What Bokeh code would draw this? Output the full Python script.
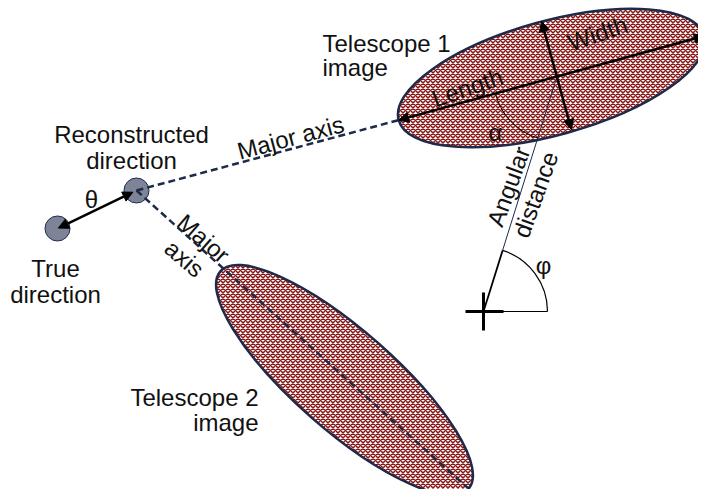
import math
from bokeh.plotting import figure
from bokeh.models import Range1d, Arrow, NormalHead, ColumnDataSource
from bokeh.core.properties import value
from bokeh.embed import file_html
from bokeh.resources import INLINE

# ---- diagram data (picture pixel coordinates) ----
ell_names = ["Telescope 1", "Telescope 2"]
ell_x = [551, 344]
ell_y = [77.5, 379.5]
ell_len = [317, 330]          # full major axis
ell_wid = [114, 100]          # full minor axis
ell_ang = [15.4, -41.2]       # degrees, counter-clockwise

true_dir = (57, 228)
reco_dir = (136, 190)
dir_radius = 12.5

cross = (483, 311)
phi_radius = 64
alpha_radius = 63
width_arrow_center = (556, 75)
width_arrow_half = 56

label_text = ["Telescope 1", "image", "Telescope 2", "image", "Reconstructed", "direction",
              "True", "direction", "Major axis", "Major", "axis", "Length", "Width",
              "Angular", "distance"]
label_x = [322, 322, 258, 258, 131, 131, 55, 55, 290, 203, 184, 467, 597, 508, 535]
label_y = [43, 67, 397, 422, 134, 160, 268, 294, 137, 238, 258, 87, 33, 186, 194]
label_ang = [0, 0, 0, 0, 0, 0, 0, 0, 15, -41, -41, 19, 19, 70, 70]
label_align = ["left", "left", "right", "right", "center", "center", "center", "center",
               "center", "center", "center", "center", "center", "center", "center"]
label_base = ["alphabetic"] * 4 + ["middle"] * 11

greek_text = ["θ", "α", "φ"]
greek_x = [91, 495, 543]
greek_y = [199, 132, 265]

NAVY = "#1d2a4a"
RED = "#8a1515"
FONT = value("Liberation Sans")

p = figure(width=698, height=489, x_range=Range1d(0, 698), y_range=Range1d(489, 0),
           output_backend="svg", toolbar_location=None, min_border=0)
p.axis.visible = False
p.grid.visible = False
p.outline_line_color = None
p.background_fill_color = "white"

# telescope images
p.ellipse(x=ell_x, y=ell_y, width=ell_len, height=ell_wid, angle=ell_ang, angle_units="deg",
          fill_color="white", hatch_pattern="diagonal_cross", hatch_color=RED,
          hatch_scale=5, hatch_weight=1.5, line_color=NAVY, line_width=2.5)

def tip(i, sign):
    a = math.radians(ell_ang[i])
    h = ell_len[i] / 2
    return (ell_x[i] + sign * h * math.cos(a), ell_y[i] - sign * h * math.sin(a))

# direction markers
p.circle(x=[true_dir[0], reco_dir[0]], y=[true_dir[1], reco_dir[1]], radius=dir_radius,
         fill_color="#7d8498", line_color=NAVY, line_width=1)

# dashed major axes
t1 = tip(0, -1)
t2 = tip(1, 1)
p.line([reco_dir[0], t1[0]], [reco_dir[1], t1[1]], line_dash="7 4", line_width=2.5, line_color=NAVY)
p.line([reco_dir[0], t2[0]], [reco_dir[1], t2[1]], line_dash="7 4", line_width=2.5, line_color=NAVY)

head = lambda: NormalHead(size=10, fill_color="black", line_color="black")
# length arrow
t1b = tip(0, 1)
p.add_layout(Arrow(x_start=t1[0], y_start=t1[1], x_end=t1b[0], y_end=t1b[1], line_width=2.5,
                   start=head(), end=head()))
# width arrow
a0 = math.radians(ell_ang[0])
wx0 = width_arrow_center[0] - width_arrow_half * math.sin(a0)
wy0 = width_arrow_center[1] - width_arrow_half * math.cos(a0)
wx1 = width_arrow_center[0] + width_arrow_half * math.sin(a0)
wy1 = width_arrow_center[1] + width_arrow_half * math.cos(a0)
p.add_layout(Arrow(x_start=wx0, y_start=wy0, x_end=wx1, y_end=wy1, line_width=2.5,
                   start=head(), end=head()))

# theta arrow
dx = reco_dir[0] - true_dir[0]
dy = reco_dir[1] - true_dir[1]
d = math.hypot(dx, dy)
p.add_layout(Arrow(x_start=true_dir[0] + dx / d, y_start=true_dir[1] + dy / d,
                   x_end=reco_dir[0] - 4 * dx / d, y_end=reco_dir[1] - 4 * dy / d, line_width=2.5,
                   start=head(), end=head()))

# angular distance line
cx1 = ell_x[0] + 5
ux = cx1 - cross[0]
uy = ell_y[0] - cross[1]
ud = math.hypot(ux, uy)
phi_end = math.atan2(-uy, ux)
arc_pt = (cross[0] + phi_radius * ux / ud, cross[1] + phi_radius * uy / ud)
p.line([arc_pt[0], cx1], [arc_pt[1], ell_y[0]], line_width=1, line_color=NAVY)
p.line([cross[0], arc_pt[0]], [cross[1], arc_pt[1]], line_width=1.8, line_color="black")
p.line([cross[0], cross[0] + phi_radius], [cross[1], cross[1]], line_width=1.2, line_color="black")
p.arc(x=[cross[0]], y=[cross[1]], radius=phi_radius, start_angle=0, end_angle=phi_end,
      line_color="black", line_width=1.2)
# alpha arc
p.arc(x=[cx1], y=[ell_y[0]], radius=alpha_radius,
      start_angle=math.pi + a0, end_angle=math.atan2(uy, -ux) + 2 * math.pi,
      line_color="black", line_width=1)
# cross
p.line([cross[0] - 18, cross[0] + 20], [cross[1], cross[1]], line_width=3, line_color="black")
p.line([cross[0], cross[0]], [cross[1] - 19, cross[1] + 19], line_width=3, line_color="black")

src = ColumnDataSource(dict(x=label_x, y=label_y, text=label_text,
                            angle=[math.radians(v) for v in label_ang],
                            align=label_align, base=label_base))
p.text(x="x", y="y", text="text", angle="angle", text_align="align", text_baseline="base",
       source=src, text_font=FONT, text_font_size="24px", text_color="#111111")
p.text(x=greek_x, y=greek_y, text=greek_text, text_align="center", text_baseline="middle",
       text_font=FONT, text_font_size="24px", text_color="#111111")

open("out.html", "w").write(file_html(p, INLINE))
